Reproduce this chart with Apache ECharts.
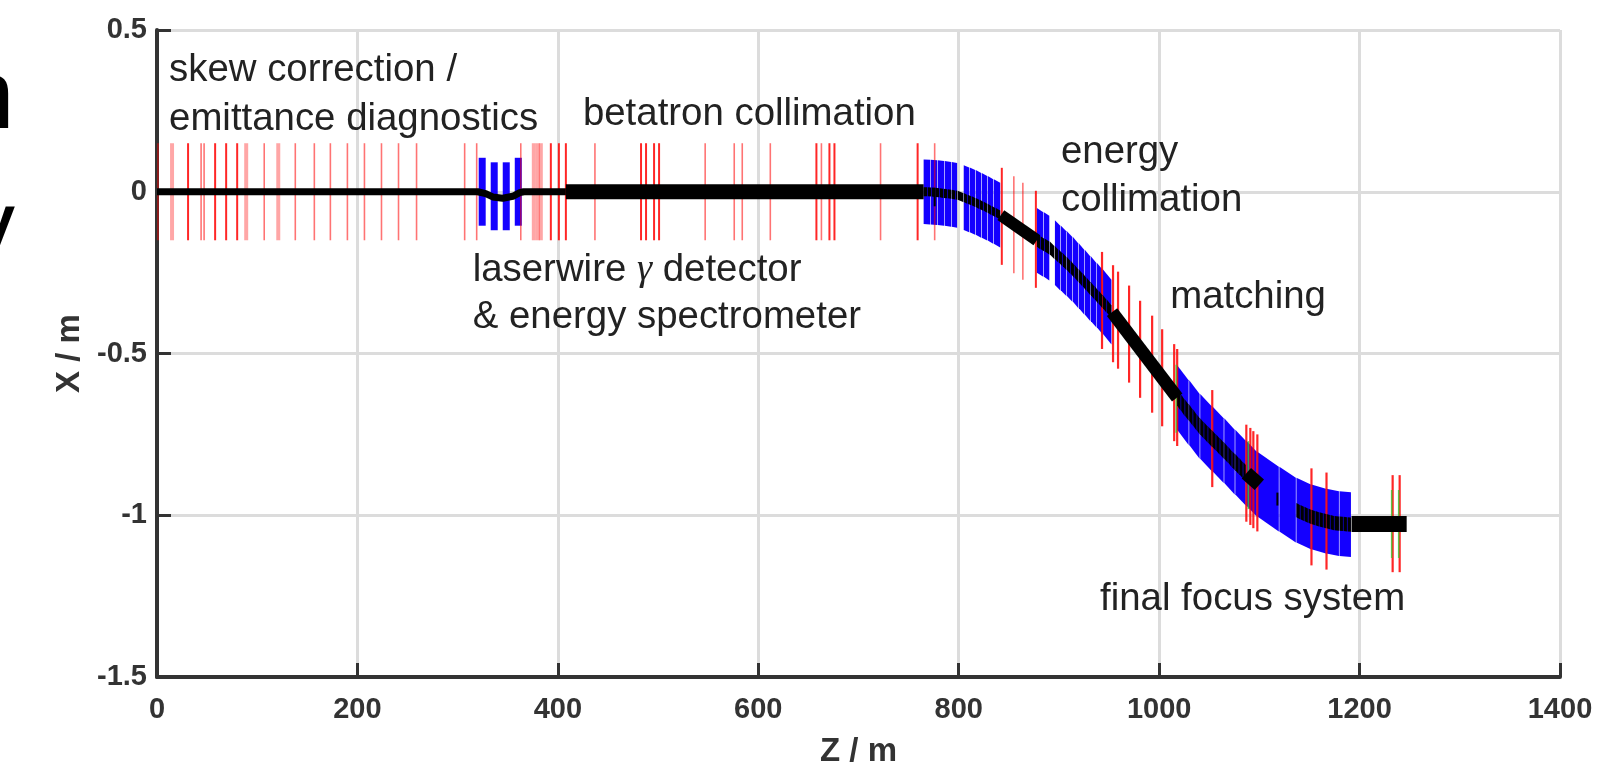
<!DOCTYPE html>
<html><head><meta charset="utf-8">
<style>html,body{margin:0;padding:0;background:#fff;overflow:hidden}#c{width:1609px;height:767px;filter:blur(0.5px)}</style>
<script src="https://cdn.jsdelivr.net/npm/echarts@6/dist/echarts.min.js"></script>
</head><body><div id="c"></div>
<script>
// Red magnets: [Z, X centre]
const redCrispZ=[58,69,80,31,488,501,496,483,658,671,676,759,393,401,408,843,877];
const redCrispX=[0,0,0,0,0,0,0,0,0,0,0,0,0,0,0,-0.076,-0.147];
const redThinZ=[1,44,47,107,138,157,173,190,207,224,241,259,307,319,363,437,547,576,584,612,663,722,776,855,864];
const redThinX=[0,0,0,0,0,0,0,0,0,0,0,0,0,0,0,0,0,0,0,0,0,0,0,-0.102,-0.122];
const redWideZ=[15,89,121,376,380,383];
const redWideX=[0,0,0,0,0,0];
const redStrongZ=[943,954,959,970,981,993,1003,1015,1018,1053,1087,1091,1094,1098,1152,1167,1233,1240];
const redStrongX=[-0.336,-0.377,-0.397,-0.44,-0.487,-0.533,-0.575,-0.621,-0.636,-0.763,-0.87,-0.88,-0.89,-0.9,-1.005,-1.018,-1.026,-1.026];
const greenZ=[1017,1089,1232,1239];
const greenX=[-0.64,-0.876,-1.027,-1.027];
// Blue magnet bands
const bandLaserZ=[[321,328],[333,340],[345,352],[357,364]];
const bandLaserX=[[0,0],[-0.014,-0.014],[-0.014,-0.014],[0,0]];
const band1Z=[765,772,779,786,793,799];
const band1X=[0,-0.001,-0.003,-0.005,-0.008,-0.011];
const band2Z=[805,811,817,823,829,835,842];
const band2X=[-0.018,-0.025,-0.033,-0.042,-0.051,-0.061,-0.072];
const band3Z=[878,885,891];
const band3X=[-0.15,-0.163,-0.174];
const band4Z=[896,902,908,914,920,926,932,938,944,953];
const band4X=[-0.188,-0.205,-0.222,-0.24,-0.26,-0.28,-0.3,-0.32,-0.34,-0.372];
const band5Z=[1018,1030,1041,1053,1065,1076,1087,1098,1120,1137,1152,1167,1180,1192];
const band5X=[-0.636,-0.683,-0.725,-0.763,-0.8,-0.836,-0.87,-0.904,-0.95,-0.984,-1.005,-1.018,-1.026,-1.029];
// Black hatched beam sections, drawn piece by piece over the bands
const hatchAZ=[765,769,773,777,781,785,789,793,797,799,805,809,813,817,821,825,829,833,837,842];
const hatchAX=[0,0,-0.001,-0.002,-0.003,-0.005,-0.006,-0.008,-0.01,-0.011,-0.018,-0.023,-0.028,-0.033,-0.039,-0.045,-0.051,-0.058,-0.064,-0.072];
const hatchBZ=[878,882,886,891,896,900,904,908,912,916,920,924,928,932,936,940,944,948,953];
const hatchBX=[-0.15,-0.158,-0.165,-0.174,-0.188,-0.199,-0.21,-0.222,-0.234,-0.247,-0.26,-0.273,-0.287,-0.3,-0.313,-0.327,-0.34,-0.354,-0.372];
const hatchCZ=[1018,1022,1026,1030,1034,1038,1041,1045,1049,1053,1057,1061,1065,1069,1073,1076,1080,1084,1087];
const hatchCX=[-0.636,-0.652,-0.668,-0.683,-0.698,-0.714,-0.725,-0.738,-0.751,-0.763,-0.775,-0.788,-0.8,-0.813,-0.827,-0.836,-0.848,-0.861,-0.87];
const hatchDZ=[1137,1141,1145,1149,1152,1156,1160,1164,1167,1171,1175,1180,1184,1188,1192];
const hatchDX=[-0.984,-0.99,-0.996,-1.001,-1.005,-1.009,-1.013,-1.016,-1.018,-1.021,-1.024,-1.026,-1.027,-1.028,-1.029];
// Beam line pieces
const beamThin=[[0,0],[320,0],[328,-0.006],[335,-0.016],[345,-0.02],[355,-0.014],[362,-0.003],[366,0],[408,0]];
const beamFat=[[408,0],[765,0]];
const beamSolid1=[[842,-0.072],[878,-0.15]];
const beamSolid2=[[953,-0.372],[1018,-0.636]];
const beamSolid3=[[1087,-0.87],[1100,-0.906]];
const beamEnd=[[1192,-1.027],[1247,-1.027]];
const markA=[[1118,-0.93],[1118,-0.97]];
const markB=[[776,0.012],[776,-0.045]];
// Annotations: text, Z, X of the left baseline
const noteText=['skew correction /','emittance diagnostics','betatron collimation','laserwire {g|γ} detector','& energy spectrometer','energy','collimation','matching','final focus system'];
const noteZ=[12,12,425,315,315,902,902,1011,941];
const noteX=[0.345,0.194,0.209,-0.273,-0.42,0.092,-0.057,-0.357,-1.29];

const zipz=(a,b)=>a.map((v,i)=>[v,b[i]]);
const pieces=(z,x)=>z.slice(1).map((v,i)=>[z[i],x[i],v,x[i+1]]);
function ticks(name,z,x,half,color,width,opacity){
  return {type:'custom',name,coordinateSystem:'cartesian2d',clip:false,z:4,silent:true,
    data:zipz(z,x),encode:{x:0,y:1},
    renderItem(p,api){const a=api.coord([api.value(0),api.value(1)+half]),b=api.coord([api.value(0),api.value(1)-half]);
      return {type:'line',shape:{x1:a[0],y1:a[1],x2:b[0],y2:b[1]},style:{stroke:color,lineWidth:width,opacity}};}};
}
function band(name,data,half=0.1,fill='#1400ff',z=3){
  return {type:'custom',name,coordinateSystem:'cartesian2d',z,silent:true,data,encode:{x:[0,2],y:[1,3]},
    renderItem(p,api){const z0=api.value(0),x0=api.value(1),z1=api.value(2),x1=api.value(3);
      const pts=[api.coord([z0,x0+half]),api.coord([z1,x1+half]),api.coord([z1,x1-half]),api.coord([z0,x0-half])];
      pts[1][0]-=0.6;pts[2][0]-=0.6;
      return {type:'polygon',shape:{points:pts},style:{fill}};}};
}
function beam(name,data,width){
  return {type:'line',name,data,showSymbol:false,symbol:'none',z:5,silent:true,animation:false,
    lineStyle:{color:'#000',width,type:'solid',cap:'butt',join:'round'}};
}
const chart=echarts.init(document.getElementById('c'),null,{renderer:'canvas'});
const gridLine={show:true,lineStyle:{color:'#dcdcdc',width:3}};
const axisFont={fontFamily:'Liberation Sans',fontWeight:'bold',fontSize:29,color:'#333'};
chart.setOption({
  animation:false,
  backgroundColor:'#fff',
  grid:{left:157,right:49,top:30,bottom:90,show:false,outerBoundsMode:'none'},
  xAxis:{type:'value',min:0,max:1400,interval:200,name:'Z / m',nameLocation:'middle',nameGap:58,
    nameTextStyle:{...axisFont,fontSize:33},
    axisLine:{onZero:false,show:true,lineStyle:{color:'#333',width:4}},
    axisTick:{show:true,inside:true,length:14,lineStyle:{color:'#333',width:3}},
    axisLabel:{...axisFont,margin:18,showMinLabel:true,showMaxLabel:true,formatter:v=>String(v)},splitLine:gridLine},
  yAxis:{type:'value',min:-1.5,max:0.5,interval:0.5,name:'X / m',nameLocation:'middle',nameGap:69,nameRotate:90,
    nameTextStyle:{...axisFont,fontSize:33},
    axisLine:{onZero:false,show:true,lineStyle:{color:'#333',width:4}},
    axisTick:{show:true,inside:true,length:14,lineStyle:{color:'#333',width:3}},
    axisLabel:{...axisFont,margin:10,showMinLabel:true,showMaxLabel:true},splitLine:gridLine},
  series:[
    {type:'custom',name:'laser bands',coordinateSystem:'cartesian2d',z:3,silent:true,
      data:bandLaserZ.map((z,i)=>[z[0],bandLaserX[i][0],z[1],bandLaserX[i][1]]),encode:{x:[0,2],y:[1,3]},
      renderItem(p,api){const h=0.105,a=api.coord([api.value(0),api.value(1)+h]),b=api.coord([api.value(2),api.value(3)-h]);
        return {type:'rect',shape:{x:a[0],y:a[1],width:b[0]-a[0],height:b[1]-a[1]},style:{fill:'#1400ff'}};}},
    band('band1',pieces(band1Z,band1X)),band('band2',pieces(band2Z,band2X)),band('band3',pieces(band3Z,band3X)),
    band('band4',pieces(band4Z,band4X)),band('band5',pieces(band5Z,band5X)),
    ticks('red crisp',redCrispZ,redCrispX,0.15,'#ff0000',2,0.85),
    ticks('red thin',redThinZ,redThinX,0.15,'#ff0000',1.6,0.55),
    ticks('red wide',redWideZ,redWideX,0.15,'#ff0000',4,0.35),
    ticks('red strong',redStrongZ,redStrongX,0.15,'#ff0000',2.2,0.85),
    ticks('green',greenZ,greenX,0.105,'#33cc33',1.5,0.8),
    band('hatch a',pieces(hatchAZ,hatchAX),0.014,'#000',5),
    band('hatch b',pieces(hatchBZ,hatchBX),0.02,'#000',5),
    band('hatch c',pieces(hatchCZ,hatchCX),0.025,'#000',5),
    band('hatch d',pieces(hatchDZ,hatchDX),0.022,'#000',5),
    beam('beam thin',beamThin,7),beam('beam fat',beamFat,15),
    beam('solid1',beamSolid1,12),beam('solid2',beamSolid2,13),beam('solid3',beamSolid3,14),
    beam('end',beamEnd,16),
    beam('mark a',markA,2),beam('mark b',markB,2),
    {type:'custom',name:'notes',coordinateSystem:'cartesian2d',clip:false,z:6,silent:true,
      data:noteText.map((t,i)=>[noteZ[i],noteX[i],t]),encode:{x:0,y:1},
      renderItem(p,api){const c=api.coord([api.value(0),api.value(1)]);
        return {type:'text',x:c[0],y:c[1]+9,style:{text:noteText[p.dataIndex],fontFamily:'Liberation Sans',fontSize:38.4,fill:'#222',
          textAlign:'left',textVerticalAlign:'bottom',verticalAlign:'bottom',
          rich:{g:{fontFamily:'Liberation Serif',fontStyle:'italic',fontSize:38.4,fill:'#222'}}}};}}
  ],
  graphic:[
    {type:'text',left:-40,top:52,style:{text:'n',fontFamily:'Liberation Sans',fontSize:98,fill:'#000'}},
    {type:'text',left:-34,top:183,style:{text:'y',fontFamily:'Liberation Sans',fontSize:98,fill:'#000'}}
  ]
});
</script></body></html>
